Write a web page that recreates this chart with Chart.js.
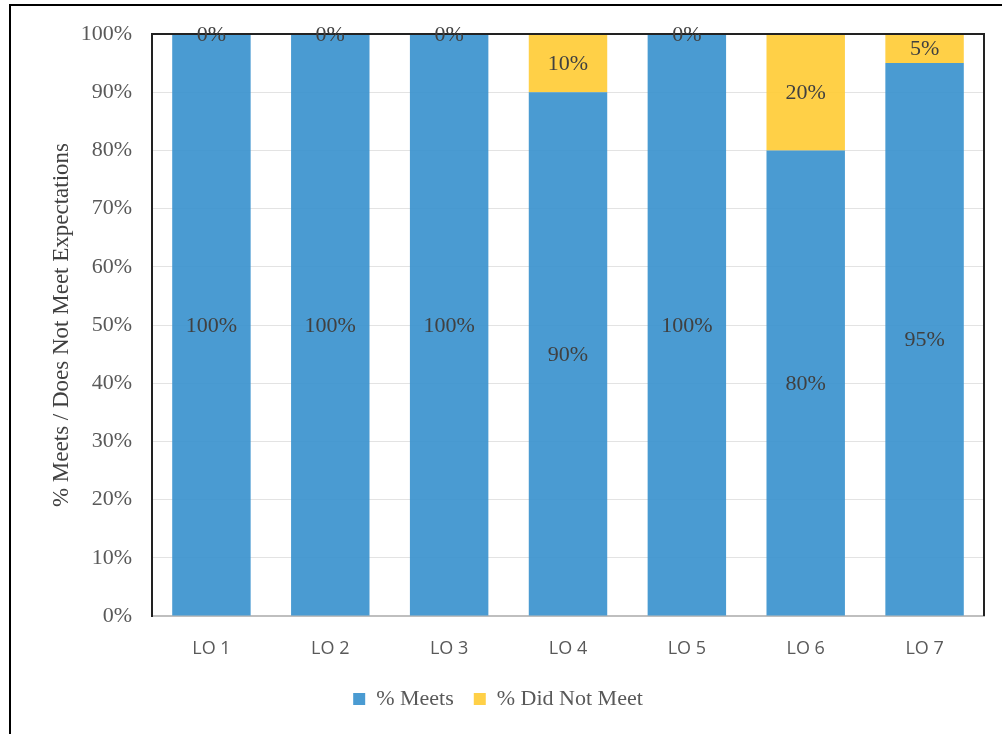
<!DOCTYPE html>
<html>
<head>
<meta charset="utf-8">
<script src="https://cdn.jsdelivr.net/npm/chart.js@4/dist/chart.umd.min.js"></script>
<style>
html,body{margin:0;padding:0;background:#fff;}
#wrap{width:1002px;height:734px;position:relative;}
</style>
</head>
<body>
<div id="wrap"><canvas id="c" width="1002" height="734"></canvas></div>
<script>
const categories = ["LO 1","LO 2","LO 3","LO 4","LO 5","LO 6","LO 7"];
const meets = [100,100,100,90,100,80,95];
const didNotMeet = [0,0,0,10,0,20,5];
const seriesNames = ["% Meets","% Did Not Meet"];
const yTitle = "% Meets / Does Not Meet Expectations";

const SERIF = "'Liberation Serif', 'DejaVu Serif', serif";
const SANS = "'Open Sans', 'Liberation Sans', sans-serif";

const frame = {
  id:'frame',
  afterDraw(chart){
    const ctx = chart.ctx, a = chart.chartArea;
    ctx.save();
    ctx.strokeStyle = '#000'; ctx.lineWidth = 2;
    ctx.beginPath(); ctx.moveTo(10,734); ctx.lineTo(10,5); ctx.lineTo(1002,5); ctx.stroke();
    ctx.strokeStyle = '#222'; ctx.lineWidth = 2;
    ctx.beginPath(); ctx.moveTo(a.left,a.top); ctx.lineTo(a.right,a.top); ctx.lineTo(a.right,a.bottom); ctx.stroke();
    ctx.font = "22px " + SERIF; ctx.fillStyle = '#404040';
    ctx.textAlign = 'center'; ctx.textBaseline = 'middle';
    chart.data.datasets.forEach((ds,di)=>{
      const meta = chart.getDatasetMeta(di);
      meta.data.forEach((el,i)=>{
        const y = (el.y + el.base)/2;
        ctx.fillText(ds.data[i] + '%', el.x, y + 1);
      });
    });
    ctx.restore();
  }
};

new Chart(document.getElementById('c'), {
  type:'bar',
  data:{
    labels:categories,
    datasets:[
      {label:seriesNames[0], data:meets, backgroundColor:'rgba(59,146,206,0.92)', borderWidth:0, barPercentage:0.66, categoryPercentage:1},
      {label:seriesNames[1], data:didNotMeet, backgroundColor:'rgba(255,204,55,0.92)', borderWidth:0, barPercentage:0.66, categoryPercentage:1}
    ]
  },
  options:{
    responsive:false, animation:false,
    layout:{padding:{left:12,right:18,top:34,bottom:14}},
    plugins:{
      legend:{position:'bottom', labels:{font:{family:SERIF,size:22}, color:'#595959', boxWidth:12, boxHeight:12, padding:20}},
      tooltip:{enabled:false}
    },
    scales:{
      x:{stacked:true,
        grid:{display:false},
        border:{color:'#BFBFBF', width:2},
        ticks:{font:{family:SANS,size:18}, color:'#595959', padding:14},
        afterFit(s){ s.height = 52; }
      },
      y:{stacked:true, min:0, max:100,
        grid:{color:'#E3E3E3', lineWidth:1, drawTicks:false},
        border:{color:'#222', width:2},
        ticks:{stepSize:10, callback:v=>v+'%', font:{family:SERIF,size:22}, color:'#595959', padding:20},
        title:{display:true, text:yTitle, font:{family:SERIF,size:23}, color:'#404040', padding:{top:36,bottom:0}},
        afterFit(s){ s.width = 140; }
      }
    }
  },
  plugins:[frame]
});
</script>
</body>
</html>
